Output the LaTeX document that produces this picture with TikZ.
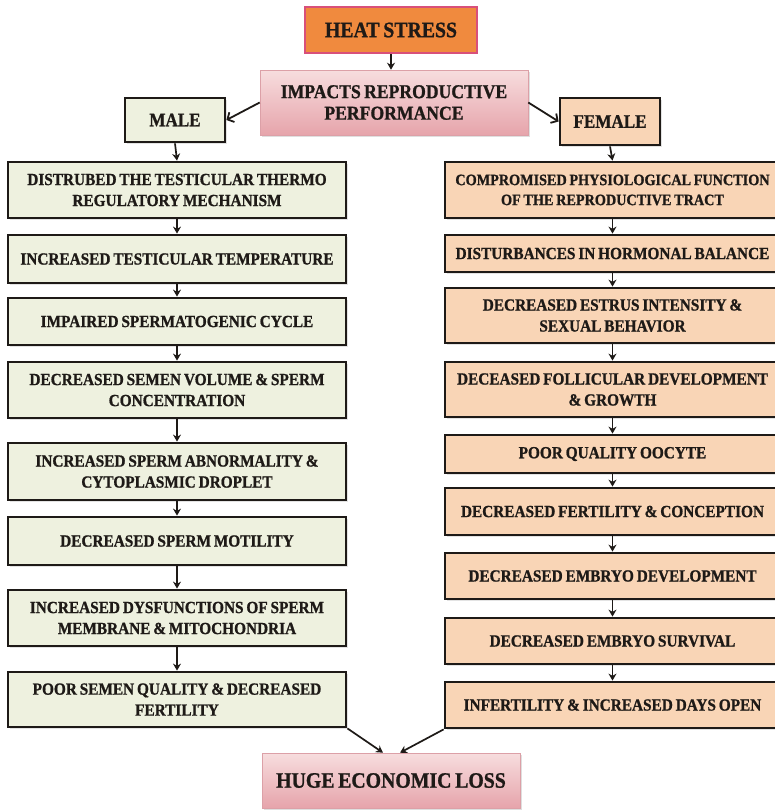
\documentclass[tikz,border=0pt]{standalone}
\usepackage{fontspec}
\setmainfont{Liberation Serif}[FakeStretch=0.9, WordSpace=0.75, BoldFeatures={FakeBold=1}]
\usetikzlibrary{arrows.meta,shadows}
\definecolor{malefill}{HTML}{EEF1DF}
\definecolor{femalefill}{HTML}{F9D5B6}
\definecolor{heatfill}{HTML}{F08A3E}
\definecolor{heatdraw}{HTML}{D8507A}
\definecolor{pinkA}{HTML}{F7DDDE}
\definecolor{pinkB}{HTML}{E6A4AB}
\definecolor{ink}{HTML}{1E1A17}
\begin{document}
\begin{tikzpicture}[x=1pt,y=-1pt,
  box/.style={draw=ink, line width=2.8pt, inner sep=0pt, align=center,
    font=\fontsize{17}{21}\selectfont\bfseries, text=ink,
    drop shadow={opacity=0.22, shadow xshift=2pt, shadow yshift=-2pt}},
  mbox/.style={box, fill=malefill, minimum width=338},
  fbox/.style={box, fill=femalefill, minimum width=335},
  headbox/.style={box, minimum width=100, font=\fontsize{19}{22}\selectfont\bfseries},
  pinkbox/.style={draw=pinkB!90!gray, line width=0.6pt, top color=pinkA, bottom color=pinkB,
    inner sep=0pt, align=center, text=ink,
    drop shadow={opacity=0.25, shadow xshift=2pt, shadow yshift=-2pt}},
  darr/.style={draw=ink, line width=1.7pt, -{Stealth[length=7pt,width=8pt]}},
  sarr/.style={draw=ink, line width=1.8pt, -{Straight Barb[length=5pt,width=11pt]}},
]
\clip (0,0) rectangle (775,811);
\fill[white] (0,0) rectangle (775,811);

% top
\node[draw=heatdraw, line width=2.6pt, fill=heatfill, minimum width=172, minimum height=46,
  inner sep=0pt, text=ink, font=\fontsize{22}{24}\selectfont\bfseries] (heat) at (391,30) {HEAT STRESS};
\node[pinkbox, minimum width=268, minimum height=65, font=\fontsize{19.6}{21.5}\selectfont\bfseries]
  (imp) at (394,102.5) {IMPACTS REPRODUCTIVE\\PERFORMANCE};
\node[headbox, fill=malefill, minimum height=44] (male) at (175,120) {MALE};
\node[headbox, fill=femalefill, minimum height=47] (female) at (610,121.5) {FEMALE};

% male chain
\node[mbox, minimum height=56] (m1) at (177,190) {DISTRUBED THE TESTICULAR THERMO\\REGULATORY MECHANISM};
\node[mbox, minimum height=48] (m2) at (177,259) {INCREASED TESTICULAR TEMPERATURE};
\node[mbox, minimum height=47] (m3) at (177,321.5) {IMPAIRED SPERMATOGENIC CYCLE};
\node[mbox, minimum height=56] (m4) at (177,390) {DECREASED SEMEN VOLUME \& SPERM\\CONCENTRATION};
\node[mbox, minimum height=57] (m5) at (177,471.5) {INCREASED SPERM ABNORMALITY \&\\CYTOPLASMIC DROPLET};
\node[mbox, minimum height=48] (m6) at (177,541) {DECREASED SPERM MOTILITY};
\node[mbox, minimum height=56] (m7) at (177,618) {INCREASED DYSFUNCTIONS OF SPERM\\MEMBRANE \& MITOCHONDRIA};
\node[mbox, minimum height=55] (m8) at (177,699.5) {POOR SEMEN QUALITY \& DECREASED\\FERTILITY};

% female chain
\node[fbox, minimum height=56, font=\fontsize{15.8}{20}\selectfont\bfseries] (f1) at (612.5,190) {COMPROMISED PHYSIOLOGICAL FUNCTION\\OF THE REPRODUCTIVE TRACT};
\node[fbox, minimum height=37] (f2) at (612.5,253.5) {DISTURBANCES IN HORMONAL BALANCE};
\node[fbox, minimum height=55] (f3) at (612.5,315.5) {DECREASED ESTRUS INTENSITY \&\\SEXUAL BEHAVIOR};
\node[fbox, minimum height=55] (f4) at (612.5,389.5) {DECEASED FOLLICULAR DEVELOPMENT\\\& GROWTH};
\node[fbox, minimum height=38] (f5) at (612.5,454) {POOR QUALITY OOCYTE};
\node[fbox, minimum height=47] (f6) at (612.5,511.5) {DECREASED FERTILITY \& CONCEPTION};
\node[fbox, minimum height=46] (f7) at (612.5,576) {DECREASED EMBRYO DEVELOPMENT};
\node[fbox, minimum height=46] (f8) at (612.5,641) {DECREASED EMBRYO SURVIVAL};
\node[fbox, minimum height=46] (f9) at (612.5,705) {INFERTILITY \& INCREASED DAYS OPEN};

% bottom
\node[pinkbox, minimum width=258, minimum height=55, font=\fontsize{22}{24}\selectfont\bfseries]
  (loss) at (391,780.5) {HUGE ECONOMIC LOSS};

% connectors
\draw[darr] (heat.south) -- (heat.south |- imp.north);
\draw[sarr] (imp.west) -- (male.east);
\draw[sarr] (imp.east) -- (female.west);
\draw[darr] (male.south) -- (m1.north);
\draw[darr] (female.south) -- (f1.north);
\foreach \a/\b in {1/2,2/3,3/4,4/5,5/6,6/7,7/8} {\draw[darr] (m\a.south) -- (m\b.north);}
\foreach \a/\b in {1/2,2/3,3/4,4/5,5/6,6/7,7/8,8/9} {\draw[darr] (f\a.south) -- (f\b.north);}
\draw[darr] (m8.south east) -- ([xshift=-8pt]loss.north);
\draw[darr] (f9.south west) -- ([xshift=9pt]loss.north);
\end{tikzpicture}
\end{document}
